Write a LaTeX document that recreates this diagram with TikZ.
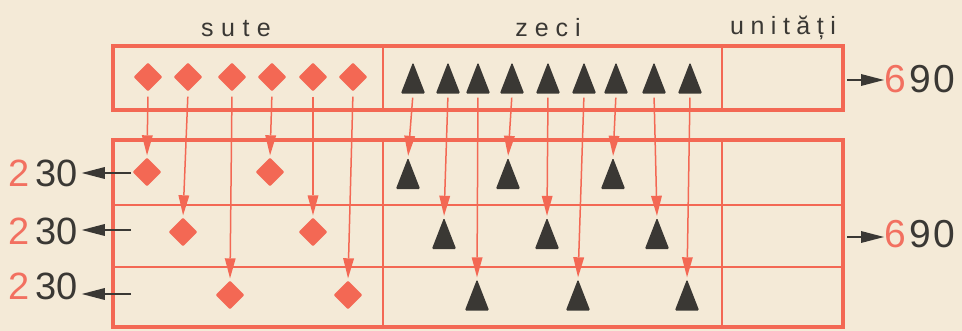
\documentclass[tikz,border=0pt]{standalone}
\usepackage{fontspec}
\setmainfont{Liberation Sans}
\usetikzlibrary{shapes.geometric,calc}
\definecolor{paper}{RGB}{244,234,215}
\definecolor{rd}{RGB}{243,104,84}
\definecolor{dk}{RGB}{58,56,52}
\definecolor{rdnum}{RGB}{242,112,96}
% connector with a hand-made triangular head: colour, start, tip, head length, half width
\newcommand\tipline[5]{%
  \coordinate (aB) at ($(#3)!#4!(#2)$);
  \draw[draw=#1,line width=1.5pt] (#2) -- (aB);
  \fill[#1] (#3) -- ($(aB)!#5!90:(#3)$) -- ($(aB)!#5!-90:(#3)$) -- cycle;}
\begin{document}
\begin{tikzpicture}[x=1pt,y=-1pt,
  gridline/.style={draw=rd,line width=2pt},
  frame/.style={draw=rd,line width=3.5pt},
  dia/.style={diamond,fill=rd,inner sep=0pt,minimum width=29pt,minimum height=29pt,aspect=1,rounded corners=1pt},
  tribox/.style={inner sep=0pt,minimum width=24pt,minimum height=31pt},
  trifill/.style={fill=dk,rounded corners=1.5pt},
  lab/.style={anchor=base,font=\fontsize{25}{28}\selectfont,text=dk,inner sep=0pt},
  num/.style={anchor=base west,text=dk,inner sep=0pt}
]
\fill[paper] (0,0) rectangle (962,331);
\useasboundingbox (0,0) rectangle (962,331);

% headings
\node[lab] (hs) at (236,37) {s\kern7.5pt u\kern7.5pt t\kern7.5pt e};
\node[lab] (hz) at (548,37) {z\kern7pt e\kern7pt c\kern7pt i};
\node[lab] (hu) at (783,35) {u\kern6.5pt n\kern6.5pt i\kern6.5pt t\kern6.5pt ă\kern6.5pt ț\kern6.5pt i};

% top box
\draw[frame] (113,46) rectangle (843,110);
\draw[gridline] (383,46) -- (383,110);
\draw[gridline] (722,46) -- (722,110);

% bottom grid
\draw[gridline] (113,205) -- (843,205);
\draw[gridline] (113,267) -- (843,267);
\draw[gridline] (383,140) -- (383,327);
\draw[gridline] (722,140) -- (722,327);
\draw[frame] (113,140) rectangle (843,327);

% top diamonds
\foreach \i/\x in {1/148,2/188,3/232,4/272,5/313,6/353}
  \node[dia] (d\i) at (\x,77) {};
% bottom diamonds
\node[dia] (b1) at (147,172) {};
\node[dia] (b4) at (270,172) {};
\node[dia] (b2) at (183,232) {};
\node[dia] (b5) at (313,232) {};
\node[dia] (b3) at (230,295) {};
\node[dia] (b6) at (348,295) {};

% top triangles
\foreach \i/\x in {1/413,2/448,3/478,4/512,5/548,6/584,7/616,8/654,9/690}
  \node[tribox] (t\i) at (\x,78) {};
% bottom triangles
\node[tribox] (s1) at (408,173.5) {};
\node[tribox] (s4) at (508,173.5) {};
\node[tribox] (s7) at (613,173.5) {};
\node[tribox] (s2) at (444,233.5) {};
\node[tribox] (s5) at (547,233.5) {};
\node[tribox] (s8) at (657,233.5) {};
\node[tribox] (s3) at (477,295) {};
\node[tribox] (s6) at (578,295) {};
\node[tribox] (s9) at (687,295) {};
\foreach \n in {t1,t2,t3,t4,t5,t6,t7,t8,t9,s1,s2,s3,s4,s5,s6,s7,s8,s9}
  \fill[trifill] (\n.south west) -- (\n.north) -- (\n.south east) -- cycle;

% vertical arrows
\foreach \i in {1,...,6}{
  \coordinate (vs) at ($(d\i.south)!5pt!(b\i.north)$);
  \coordinate (ve) at ($(b\i.north)!2pt!(d\i.south)$);
  \tipline{rd}{vs}{ve}{20pt}{5.5pt}
}
\foreach \i in {1,...,9}{
  \coordinate (vs) at ($(t\i.south)!4pt!(s\i.north)$);
  \coordinate (ve) at ($(s\i.north)!2pt!(t\i.south)$);
  \tipline{rd}{vs}{ve}{20pt}{5.5pt}
}

% left numbers
\foreach \i/\yb/\ya in {1/187/173,2/245/230,3/300/294}{
  \node[num,font=\fontsize{38}{40}\selectfont] (n\i) at (8,\yb) {{\color{rdnum}2}\kern6pt 3\kern0pt 0};
  \coordinate (la\i) at (131,\ya);
  \coordinate (le\i) at ($(la\i -| n\i.east)+(4,0)$);
  \tipline{dk}{la\i}{le\i}{23pt}{6pt}
}

% right numbers
\node[num,font=\fontsize{39}{42}\selectfont] (r1) at (884,93) {{\color{rdnum}6}\kern4pt 9\kern1.5pt 0};
\node[num,font=\fontsize{39}{42}\selectfont] (r2) at (884,248) {{\color{rdnum}6}\kern4pt 9\kern1.5pt 0};
\coordinate (ra1) at (847,80);
\coordinate (ra2) at (847,237);
\coordinate (re1) at (ra1 -| r1.west);
\coordinate (re2) at (ra2 -| r2.west);
\tipline{dk}{ra1}{re1}{23pt}{6pt}
\tipline{dk}{ra2}{re2}{23pt}{6pt}
\end{tikzpicture}
\end{document}
